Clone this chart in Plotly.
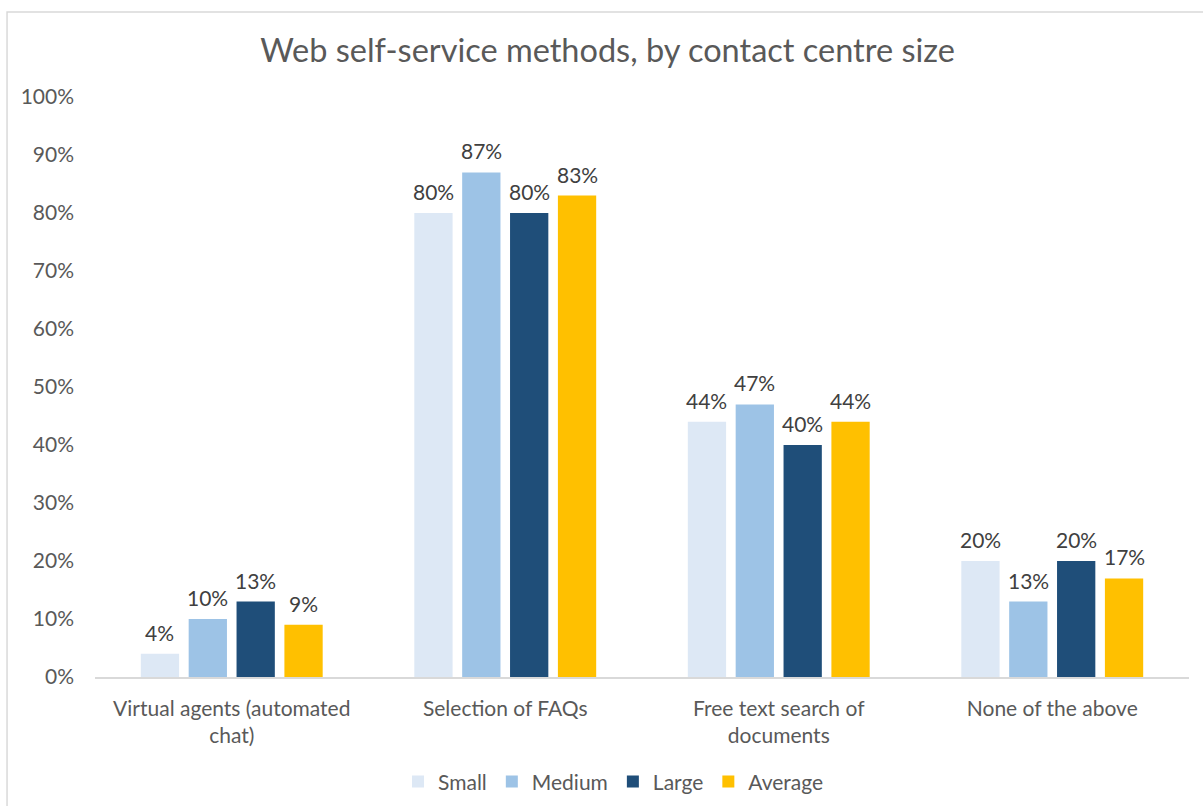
import plotly.graph_objects as go

categories = ["Virtual agents (automated<br>chat)", "Selection of FAQs",
              "Free text search of<br>documents", "None of the above"]
series_names = ["Small", "Medium", "Large", "Average"]
small = [4, 80, 44, 20]
medium = [10, 87, 47, 13]
large = [13, 80, 40, 20]
average = [9, 83, 44, 17]
colors = ["#dde8f5", "#9dc3e6", "#1f4e79", "#ffc000"]
y_ticks = list(range(0, 101, 10))

FONT = "Lato, 'Open Sans', sans-serif"
BARGAP, GROUPGAP = 0.3, 0.2

all_series = [small, medium, large, average]
n = len(all_series)
slot = (1 - BARGAP) / n

fig = go.Figure()
for name, vals, col in zip(series_names, all_series, colors):
    fig.add_trace(go.Bar(
        name=name, x=categories, y=vals,
        marker=dict(color=col, line=dict(width=0)),
    ))

# value labels sit a little above each bar
annotations = []
for k, vals in enumerate(all_series):
    off = -(1 - BARGAP) / 2 + slot * (k + 0.5)
    for i, v in enumerate(vals):
        annotations.append(dict(
            x=i + off, y=v, xref="x", yref="y", text=f"{v}%",
            showarrow=False, yanchor="bottom", yshift=7,
            font=dict(size=21, color="#404040", family=FONT)))

fig.update_layout(
    width=1203, height=806,
    paper_bgcolor="white", plot_bgcolor="white",
    margin=dict(l=95, r=14, t=97, b=129, autoexpand=False),
    barmode="group", bargap=BARGAP, bargroupgap=GROUPGAP,
    font=dict(family=FONT, color="#595959"),
    title=dict(text="Web self-service methods, by contact centre size",
               x=0.505, xanchor="center", y=0.937, yanchor="middle",
               font=dict(size=32.5, color="#595959", family=FONT)),
    legend=dict(orientation="h", xref="container", yref="container",
                x=0.51, xanchor="center", y=0.03, yanchor="middle",
                font=dict(size=21, color="#595959", family=FONT),
                itemwidth=30, traceorder="normal"),
    xaxis=dict(showline=True, linecolor="#d9d9d9", linewidth=1.5,
               tickfont=dict(size=21, color="#595959", family=FONT),
               ticks="", ticklabelstandoff=12, automargin=False),
    yaxis=dict(range=[0, 100], tickvals=y_ticks,
               ticktext=[f"{t}%" for t in y_ticks],
               showgrid=False, zeroline=False, showline=False,
               tickfont=dict(size=21, color="#595959", family=FONT),
               ticklabelstandoff=20, automargin=False),
    annotations=annotations,
    shapes=[dict(type="rect", xref="paper", yref="paper",
                 x0=-0.0804, x1=1.05, y0=-0.4, y1=1.1466,
                 line=dict(color="#d9d9d9", width=1.5), layer="below")],
)

fig.write_html("out.html")
